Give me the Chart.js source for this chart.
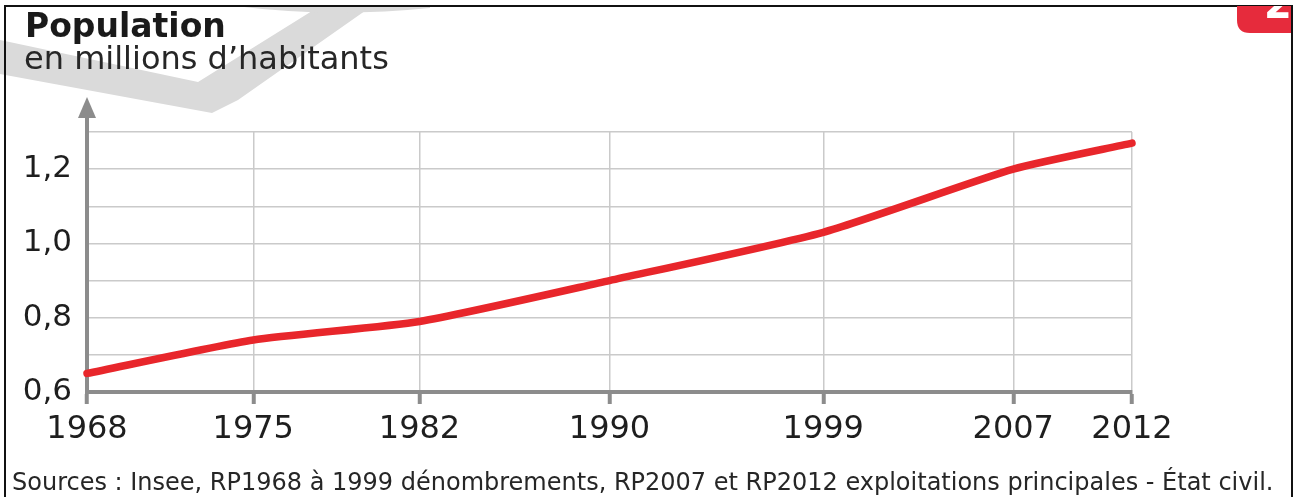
<!DOCTYPE html>
<html>
<head>
<meta charset="utf-8">
<script src="https://cdn.jsdelivr.net/npm/chart.js@4/dist/chart.umd.min.js"></script>
<style>
  body { margin: 0; background: #fff; }
  canvas { display: block; }
</style>
</head>
<body>
<canvas id="popChart" width="1297" height="497"></canvas>
<script>
// data
const years = [1968, 1975, 1982, 1990, 1999, 2007, 2012];
const population = [0.65, 0.74, 0.79, 0.90, 1.03, 1.20, 1.27];
const yTickValues = [0.6, 0.7, 0.8, 0.9, 1.0, 1.1, 1.2, 1.3];
const yTickLabels = ['0,6', '', '0,8', '', '1,0', '', '1,2', ''];

const titleText = 'Population';
const subtitleText = 'en millions d\u2019habitants';
const sourceText = 'Sources : Insee, RP1968 \u00e0 1999 d\u00e9nombrements, RP2007 et RP2012 exploitations principales - \u00c9tat civil.';

const axisGrey = '#8c8c8c';
const gridGrey = '#cacaca';
const font = "'DejaVu Sans'";

// watermark, frame, red tab
const decoPlugin = {
    id: 'deco',
    beforeDraw: (chart) => {
        const ctx = chart.ctx;
        ctx.save();
        ctx.fillStyle = '#dadada';
        ctx.beginPath();
        ctx.moveTo(0, 40);
        ctx.lineTo(198, 82);
        ctx.lineTo(320, 6);
        ctx.lineTo(372, 6);
        ctx.lineTo(238, 100);
        ctx.lineTo(212, 113);
        ctx.lineTo(0, 74);
        ctx.closePath();
        ctx.fill();
        ctx.beginPath();
        ctx.moveTo(235, 6);
        ctx.quadraticCurveTo(330, 18, 430, 8);
        ctx.lineTo(430, 6);
        ctx.closePath();
        ctx.fill();
        ctx.restore();
    },
    afterDraw: (chart) => {
        const ctx = chart.ctx;
        const area = chart.chartArea;
        ctx.save();
        // y axis arrow
        ctx.strokeStyle = axisGrey;
        ctx.fillStyle = axisGrey;
        ctx.lineWidth = 4;
        ctx.beginPath();
        ctx.moveTo(area.left, area.top);
        ctx.lineTo(area.left, 115);
        ctx.stroke();
        ctx.beginPath();
        ctx.moveTo(area.left, 97);
        ctx.lineTo(area.left + 9, 118);
        ctx.lineTo(area.left - 9, 118);
        ctx.closePath();
        ctx.fill();

        // texts
        ctx.fillStyle = '#1a1a1a';
        ctx.textBaseline = 'alphabetic';
        ctx.textAlign = 'left';
        ctx.font = 'bold 33px ' + font;
        ctx.fillText(titleText, 25, 37);
        ctx.fillStyle = '#262626';
        ctx.font = '32px ' + font;
        ctx.fillText(subtitleText, 24, 69);
        ctx.font = '24px ' + font;
        ctx.fillText(sourceText, 12, 490);

        // frame
        ctx.strokeStyle = '#111';
        ctx.lineWidth = 2;
        ctx.strokeRect(5, 6, 1287, 520);

        // red tab top right
        ctx.fillStyle = '#e62b3c';
        ctx.beginPath();
        ctx.moveTo(1237, 6);
        ctx.lineTo(1291, 6);
        ctx.lineTo(1291, 33);
        ctx.lineTo(1250, 33);
        ctx.quadraticCurveTo(1237, 33, 1237, 20);
        ctx.closePath();
        ctx.fill();
        ctx.clip();
        ctx.fillStyle = '#fff';
        ctx.font = 'bold 40px ' + font;
        ctx.fillText('2', 1264, 18);
        ctx.restore();
    }
};

const ctx = document.getElementById('popChart');
const data = {
    labels: years,
    datasets: [{
        label: 'Population',
        data: years.map((y, i) => ({ x: y, y: population[i] })),
        borderColor: '#e8262b',
        borderWidth: 7.5,
        borderCapStyle: 'round',
        borderJoinStyle: 'round',
        tension: 0.2,
        pointRadius: 0,
        fill: false,
        clip: false
    }]
};
const config = {
    type: 'line',
    data: data,
    plugins: [decoPlugin],
    options: {
        responsive: false,
        animation: false,
        layout: { padding: { left: 0, top: 132, right: 165, bottom: 45 } },
        plugins: {
            legend: { display: false },
            tooltip: { enabled: false }
        },
        scales: {
            x: {
                type: 'linear',
                min: 1968,
                max: 2012,
                afterBuildTicks: (scale) => {
                    scale.ticks = years.map(v => ({ value: v }));
                },
                afterFit: (scale) => { scale.height = 60; },
                grid: {
                    color: gridGrey,
                    lineWidth: 1.5,
                    drawTicks: true,
                    tickLength: 12,
                    tickColor: axisGrey,
                    tickWidth: 4
                },
                border: { display: true, color: axisGrey, width: 4 },
                ticks: {
                    autoSkip: false,
                    maxRotation: 0,
                    padding: 6,
                    color: '#1e1e1e',
                    font: { family: font, size: 32 },
                    callback: (value) => String(value)
                }
            },
            y: {
                min: 0.6,
                max: 1.3,
                afterBuildTicks: (scale) => {
                    scale.ticks = yTickValues.map(v => ({ value: v }));
                },
                afterFit: (scale) => { scale.width = 87; },
                grid: {
                    color: gridGrey,
                    lineWidth: 1.5,
                    drawTicks: false
                },
                border: { display: true, color: axisGrey, width: 4 },
                ticks: {
                    autoSkip: false,
                    padding: 15,
                    color: '#1e1e1e',
                    font: { family: font, size: 31 },
                    callback: (value, index) => yTickLabels[index]
                }
            }
        }
    }
};
new Chart(ctx, config);
</script>
</body>
</html>
